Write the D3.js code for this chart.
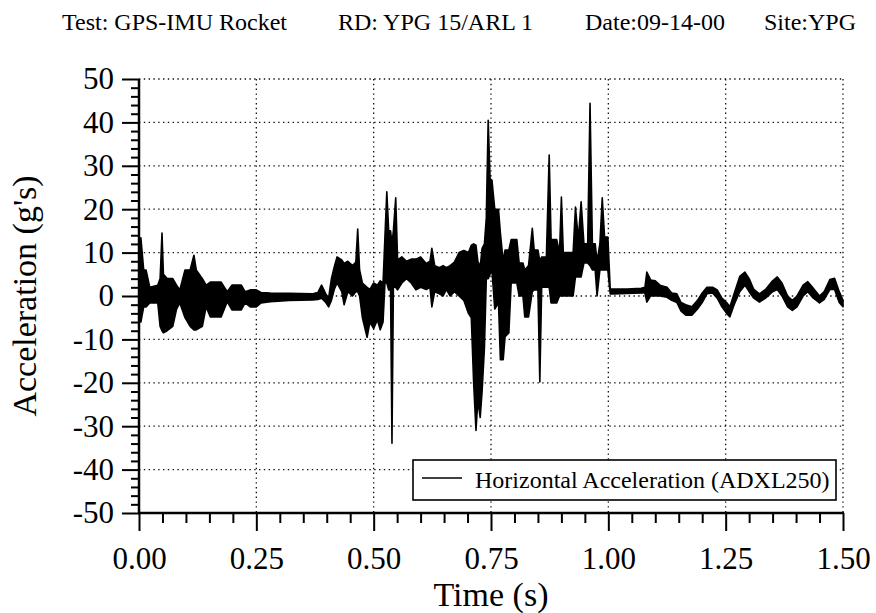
<!DOCTYPE html>
<html>
<head>
<meta charset="utf-8">
<script src="https://cdn.jsdelivr.net/npm/d3@7"></script>
<style>
  body { margin: 0; background: #fff; }
  svg { display: block; font-family: "Liberation Serif", "Times New Roman", serif; }
</style>
</head>
<body>
<div class="container"></div>
<script>
// Header texts
const header = ["Test: GPS-IMU Rocket", "RD: YPG 15/ARL 1", "Date:09-14-00", "Site:YPG"];

// Tick values
const timeTicks = [0, 0.25, 0.5, 0.75, 1.0, 1.25, 1.5];
const accelTicks = [-50, -40, -30, -20, -10, 0, 10, 20, 30, 40, 50];

// Trace: [time (s), upper edge, lower edge] in g's
const ringdown = [
  [0.000, 13, -6], [0.004, 13.4, -6], [0.010, 6, -2.5], [0.015, 6, -2.5],
  [0.023, 2, -1.6], [0.040, 2.5, -1.6], [0.045, 4, -7], [0.049, 14.5, -8],
  [0.052, 5, -8.5], [0.060, 4, -8], [0.072, 4, -7], [0.080, 2.5, -3],
  [0.087, 1.4, -1.6], [0.098, 6, -5], [0.109, 6, -7], [0.117, 9.4, -7.8],
  [0.122, 6, -7.8], [0.135, 4, -7], [0.143, 2.5, -2.5], [0.152, 3.2, -4.8],
  [0.175, 3.2, -4.8], [0.188, 1, -1.3], [0.198, 2.5, -3.2], [0.218, 2.5, -3.2],
  [0.226, 1, -1.6], [0.237, 1.4, -2.5], [0.250, 1.4, -2.5], [0.260, 0.8, -1.6],
  [0.280, 0.7, -1.3], [0.320, 0.6, -1.0], [0.370, 0.5, -0.9], [0.381, 0.8, -0.8],
  [0.389, 2.5, -0.5], [0.398, 0.5, -1.5], [0.404, -0.5, -2.5], [0.410, 4, -1],
  [0.416, 6.7, 1.5]
];

const boost = [
  [0.422, 9, 3], [0.432, 8.3, 1], [0.437, 7.5, -2], [0.445, 8, 1],
  [0.455, 7, 0], [0.462, 7.8, 1], [0.466, 15.4, 1], [0.470, 6, 0],
  [0.476, 3, -5], [0.486, 2, -9.5], [0.492, 1.5, -6], [0.500, 3, -7.5],
  [0.508, 2.5, -5.5], [0.514, 3.5, -7.8], [0.520, 3, -6], [0.524, 13.6, 3],
  [0.528, 24, 3], [0.532, 15, 1.4], [0.536, 15, 1.4], [0.539, 12, -33.9],
  [0.542, 15, 2], [0.547, 22.6, 2], [0.551, 8.3, 1.4], [0.560, 9, 3],
  [0.570, 8, 4], [0.580, 8.5, 3], [0.590, 8.5, 1.4], [0.600, 9, 2],
  [0.612, 7.5, 1.5], [0.620, 8, 2], [0.624, 11, -2.5], [0.630, 7, 1],
  [0.640, 6.5, 0.5], [0.648, 7, 0], [0.655, 6.5, 1.5], [0.663, 7, 0],
  [0.672, 7.8, 1], [0.682, 10, 0], [0.692, 10.5, -1], [0.702, 10, -4]
];

const burst = [
  [0.708, 11.7, -5], [0.713, 12, -20], [0.718, 11.7, -31], [0.722, 8, -24],
  [0.727, 6.7, -28], [0.731, 11, -22], [0.736, 12, -12], [0.740, 18, 4],
  [0.744, 40.5, 4], [0.748, 27, 5], [0.752, 26.7, 6], [0.758, 20, -3],
  [0.766, 20, -1.6], [0.770, 14.5, -14.7], [0.776, 8, -14.7], [0.780, 10.6, -9.4],
  [0.788, 10.6, -8.5], [0.793, 13, 3], [0.805, 13, 3], [0.810, 7.6, 0],
  [0.818, 7.6, 0], [0.822, 6, -4.8], [0.830, 7, -4.8], [0.838, 15.6, 1],
  [0.842, 10.6, 1.4], [0.850, 10.6, 1.4], [0.854, 8, -19.8], [0.858, 9, 2],
  [0.868, 9, 2], [0.874, 32.5, 2], [0.878, 13, -1.6], [0.890, 13, -1.6],
  [0.896, 10, 0], [0.900, 22.8, 0], [0.904, 10, 0], [0.925, 10, 0],
  [0.930, 20.5, 4.4], [0.936, 13, 4.4], [0.942, 21.7, 4.4], [0.948, 12, 7.6],
  [0.956, 12, 7.6], [0.961, 44.4, 7], [0.966, 12, 6], [0.972, 12, 6],
  [0.976, 8, 0], [0.982, 12, 6], [0.987, 22.6, 6], [0.992, 13.6, 6],
  [0.999, 13.6, 6], [1.004, 1.6, 0.5]
];

const coast = [
  [1.010, 1.6, 0.5], [1.040, 1.6, 0.6], [1.070, 1.8, 0.7], [1.078, 2, 0.7],
  [1.082, 5.5, -1.4], [1.090, 3.7, 0], [1.100, 3.5, 0], [1.110, 2.5, 0],
  [1.125, 2, -0.3], [1.135, 0.7, -1], [1.146, 0.5, -1.5], [1.155, -1.5, -3.5],
  [1.165, -2, -4.4], [1.178, -2.5, -4.4], [1.190, -1, -3], [1.200, 0.7, -1.5],
  [1.210, 2, 0.5], [1.222, 2, 0.7], [1.232, 1.4, -0.5], [1.242, -0.5, -2.5],
  [1.252, -1.5, -4], [1.259, -2.5, -4.8], [1.268, 0.5, -2], [1.280, 4.5, 1],
  [1.291, 5.5, 2.5], [1.300, 4, 1], [1.310, 1.5, -0.5], [1.322, 0.5, -1.4],
  [1.335, 1.5, -0.5], [1.350, 3.5, 1], [1.360, 4.4, 1.5], [1.370, 3, 0],
  [1.382, 0, -2.5], [1.392, -1, -3.3], [1.402, 0, -2.5], [1.415, 2.5, 0],
  [1.425, 3.3, 1], [1.435, 2, -0.3], [1.450, 0, -1.6], [1.460, 1, -0.8],
  [1.472, 3.8, 1.5], [1.482, 4.1, 1.5], [1.492, 1, -1.5], [1.500, -1, -2.5]
];

const legendLabel = "Horizontal Acceleration (ADXL250)";

// Dimensions
const w = 876;
const h = 613;
const plotL = 139, plotR = 843, plotT = 79, plotB = 513;
const serif = '"Liberation Serif", "Times New Roman", serif';

const xScale = d3.scaleLinear().domain([0, 1.5]).range([plotL, plotR]);
const yScale = d3.scaleLinear().domain([-50, 50]).range([plotB, plotT]);

const svg = d3.select(".container")
  .append("svg")
  .attr("width", w)
  .attr("height", h);

// Header
const headerX = [62, 338, 585, 764];
svg.selectAll(".header")
  .data(header)
  .enter()
  .append("text")
  .attr("class", "header")
  .attr("x", (d, i) => headerX[i])
  .attr("y", 30)
  .style("font-size", "24px")
  .text(d => d);

// Dotted grid
const grid = svg.append("g").attr("stroke", "#111").attr("stroke-width", 1.3)
  .attr("stroke-dasharray", "1.4,3.4");
grid.selectAll(".hgrid")
  .data(accelTicks.filter(d => d > -50))
  .enter()
  .append("line")
  .attr("x1", plotL).attr("x2", plotR)
  .attr("y1", d => yScale(d)).attr("y2", d => yScale(d));
grid.selectAll(".vgrid")
  .data(timeTicks.filter(d => d > 0))
  .enter()
  .append("line")
  .attr("x1", d => xScale(d)).attr("x2", d => xScale(d))
  .attr("y1", plotT).attr("y2", plotB);

// Trace
const trace = ringdown.concat(boost, burst, coast);
const band = d3.area()
  .x(d => xScale(d[0]))
  .y0(d => yScale(d[2]))
  .y1(d => yScale(d[1]));
svg.append("path")
  .datum(trace)
  .attr("d", band)
  .attr("fill", "#000")
  .attr("stroke", "#000")
  .attr("stroke-width", 1.6)
  .attr("stroke-linejoin", "round");

// Minor tick values
const minorX = d3.range(0, 31).map(i => i * 0.05).filter((d, i) => i % 5 !== 0);
const minorY = d3.range(-25, 26).map(i => i * 2).filter(d => d % 10 !== 0);

// Y axis
const yAxis = d3.axisLeft(yScale).tickValues(accelTicks).tickSize(17).tickPadding(8)
  .tickFormat(d => String(d));
const gy = svg.append("g")
  .attr("transform", `translate(${plotL},0)`)
  .call(yAxis)
  .attr("font-family", serif)
  .attr("font-size", 31);
gy.select(".domain").remove();
gy.selectAll("line").attr("stroke-width", 2);
gy.selectAll("text").attr("fill", "#000");

const gyMinor = svg.append("g")
  .attr("transform", `translate(${plotL},0)`)
  .call(d3.axisLeft(yScale).tickValues(minorY).tickSize(8).tickFormat(""));
gyMinor.select(".domain").remove();
gyMinor.selectAll("line").attr("stroke-width", 2);

// X axis
const xAxis = d3.axisBottom(xScale).tickValues(timeTicks).tickSize(18).tickPadding(16)
  .tickFormat(d3.format(".2f"));
const gx = svg.append("g")
  .attr("transform", `translate(0,${plotB})`)
  .call(xAxis)
  .attr("font-family", serif)
  .attr("font-size", 31);
gx.select(".domain").remove();
gx.selectAll("line").attr("stroke-width", 2);
gx.selectAll("text").attr("fill", "#000");

const gxMinor = svg.append("g")
  .attr("transform", `translate(0,${plotB})`)
  .call(d3.axisBottom(xScale).tickValues(minorX).tickSize(10).tickFormat(""));
gxMinor.select(".domain").remove();
gxMinor.selectAll("line").attr("stroke-width", 2);

// Axis lines
svg.append("line")
  .attr("x1", plotL).attr("x2", plotL).attr("y1", plotT).attr("y2", plotB)
  .attr("stroke", "#000").attr("stroke-width", 2.5);
svg.append("line")
  .attr("x1", plotL - 1).attr("x2", plotR + 1).attr("y1", plotB).attr("y2", plotB)
  .attr("stroke", "#000").attr("stroke-width", 2.5);

// Axis titles
svg.append("text")
  .attr("x", (plotL + plotR) / 2)
  .attr("y", 606)
  .attr("text-anchor", "middle")
  .style("font-size", "34px")
  .text("Time (s)");

svg.append("text")
  .attr("transform", `translate(36,${(plotT + plotB) / 2}) rotate(-90)`)
  .attr("text-anchor", "middle")
  .style("font-size", "34px")
  .text("Acceleration (g's)");

// Legend
const legend = svg.append("g");
legend.append("rect")
  .attr("x", 413).attr("y", 460).attr("width", 423).attr("height", 40)
  .attr("fill", "#fff").attr("stroke", "#000").attr("stroke-width", 1.6);
legend.append("line")
  .attr("x1", 422).attr("x2", 462).attr("y1", 478).attr("y2", 478)
  .attr("stroke", "#000").attr("stroke-width", 1.6);
legend.append("text")
  .attr("x", 475).attr("y", 488)
  .style("font-size", "24px")
  .text(legendLabel);
</script>
</body>
</html>
